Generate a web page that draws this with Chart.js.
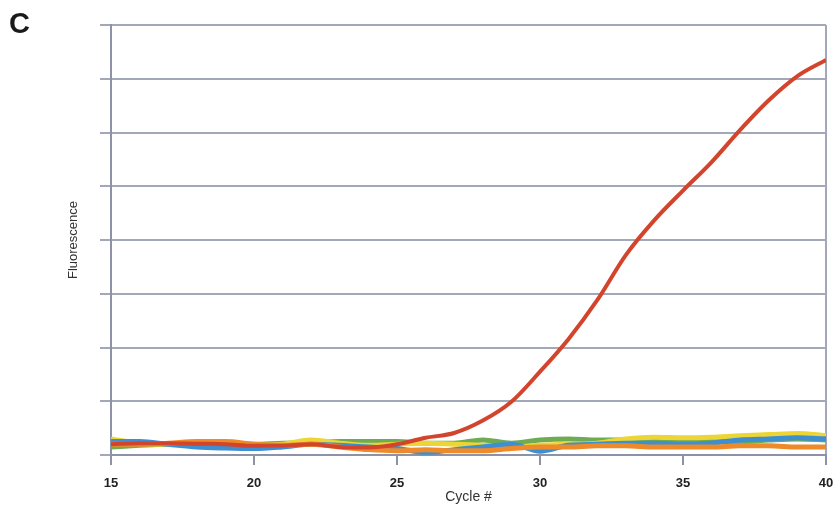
<!DOCTYPE html>
<html>
<head>
<meta charset="utf-8">
<script src="https://cdn.jsdelivr.net/npm/chart.js@4/dist/chart.umd.min.js"></script>
<style>
  html, body { margin: 0; padding: 0; background: #fff; }
  #wrap { position: relative; width: 835px; height: 509px; }
  #panel { position: absolute; left: 9px; top: 7px; font: bold 29px "Liberation Sans", Arial, sans-serif; color: #1a1a1a; }
</style>
</head>
<body>
<div id="wrap">
  <canvas id="pcrChart" width="835" height="509"></canvas>
  <div id="panel">C</div>
</div>
<script>
// Amplification curves, one value per cycle
const cycles = [15,16,17,18,19,20,21,22,23,24,25,26,27,28,29,30,31,32,33,34,35,36,37,38,39,40];
const redSeries    = [0.2,0.22,0.22,0.21,0.2,0.17,0.17,0.2,0.15,0.14,0.2,0.32,0.41,0.64,0.99,1.55,2.16,2.88,3.72,4.37,4.92,5.45,6.05,6.6,7.05,7.35];
const blueSeries   = [0.25,0.25,0.2,0.15,0.13,0.12,0.15,0.2,0.18,0.15,0.12,0.05,0.1,0.15,0.2,0.07,0.18,0.2,0.22,0.22,0.2,0.22,0.28,0.3,0.32,0.3];
const greenSeries  = [0.15,0.18,0.2,0.22,0.2,0.2,0.22,0.23,0.25,0.25,0.25,0.22,0.22,0.28,0.22,0.28,0.3,0.28,0.28,0.28,0.25,0.25,0.25,0.28,0.3,0.28];
const yellowSeries = [0.3,0.22,0.2,0.22,0.2,0.18,0.2,0.28,0.22,0.18,0.2,0.22,0.2,0.18,0.15,0.18,0.2,0.22,0.3,0.33,0.32,0.33,0.36,0.38,0.4,0.36];
const orangeSeries = [0.2,0.2,0.22,0.25,0.25,0.2,0.18,0.2,0.15,0.1,0.08,0.1,0.08,0.08,0.12,0.15,0.15,0.17,0.17,0.15,0.15,0.15,0.17,0.17,0.15,0.15];
const xTicks = [15, 20, 25, 30, 35, 40];

const gridGrey = '#a3a7ba';
const axisGrey = '#8d92a8';
const font = "'Liberation Sans', Arial, sans-serif";

function toPoints(values) {
    return values.map((v, i) => ({ x: cycles[i], y: v }));
}

function series(label, values, color, width) {
    return {
        label: label,
        data: toPoints(values),
        borderColor: color,
        borderWidth: width,
        pointRadius: 0,
        tension: 0.4,
        cubicInterpolationMode: 'monotone',
        fill: false
    };
}

const ctx = document.getElementById('pcrChart').getContext('2d');
new Chart(ctx, {
    type: 'line',
    data: {
        datasets: [
            series('Red', redSeries, '#d2452c', 4),
            series('Orange', orangeSeries, '#ee8a2a', 5),
            series('Blue', blueSeries, '#3d8fd1', 5),
            series('Yellow', yellowSeries, '#ecd534', 5),
            series('Green', greenSeries, '#6eab52', 5)
        ]
    },
    options: {
        responsive: false,
        animation: false,
        layout: { padding: { left: 0, right: 9, top: 25, bottom: 0 } },
        plugins: { legend: { display: false }, tooltip: { enabled: false } },
        scales: {
            x: {
                type: 'linear',
                min: 15,
                max: 40,
                afterBuildTicks: (scale) => { scale.ticks = xTicks.map(v => ({ value: v })); },
                afterFit: (scale) => {
                    scale.height = 54;
                    scale.paddingLeft = 0;
                    scale.paddingRight = 0;
                },
                border: { color: axisGrey, width: 2 },
                grid: {
                    color: (c) => c.tick && c.tick.value === 40 ? gridGrey : 'rgba(0,0,0,0)',
                    tickColor: axisGrey,
                    lineWidth: 2,
                    tickLength: 10
                },
                ticks: {
                    color: '#222',
                    padding: 11,
                    maxRotation: 0,
                    font: { family: font, size: 13, weight: 'bold' }
                },
                title: {
                    display: true,
                    text: 'Cycle #',
                    color: '#333',
                    padding: { top: 0, bottom: 3 },
                    font: { family: font, size: 14 }
                }
            },
            y: {
                min: 0,
                max: 8,
                afterFit: (scale) => { scale.width = 111; },
                border: { color: axisGrey, width: 2 },
                grid: {
                    color: gridGrey,
                    tickColor: gridGrey,
                    lineWidth: 2,
                    tickLength: 11
                },
                ticks: { stepSize: 1, display: false },
                title: {
                    display: true,
                    text: 'Fluorescence',
                    color: '#333',
                    padding: { top: 66, bottom: 0 },
                    font: { family: font, size: 13 }
                }
            }
        }
    }
});
</script>
</body>
</html>
